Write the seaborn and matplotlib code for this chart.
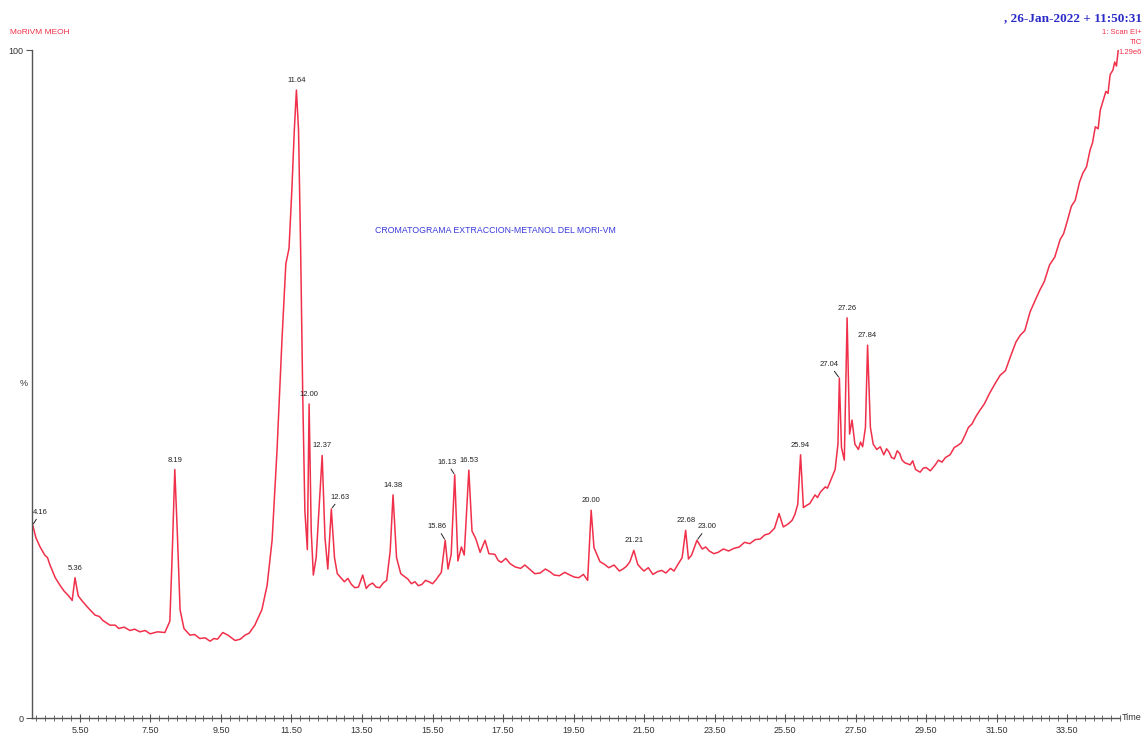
import numpy as np
import pandas as pd
import matplotlib
matplotlib.use("Agg")
import matplotlib.pyplot as plt
from matplotlib.ticker import MultipleLocator, FixedLocator
import seaborn as sns

# Total ion chromatogram (retention time in minutes, relative intensity in %)
rt = [4.16, 4.25, 4.37, 4.50, 4.58, 4.65, 4.80, 4.93, 5.05, 5.16, 5.28, 5.36, 5.45, 5.55,
      5.73, 5.93, 6.05, 6.15, 6.35, 6.50, 6.60, 6.75, 6.92, 7.05, 7.20, 7.35, 7.49, 7.70,
      7.91, 8.05, 8.12, 8.19, 8.26, 8.34, 8.45, 8.62, 8.75, 8.90, 9.05, 9.19, 9.30, 9.40,
      9.55, 9.70, 9.90, 10.05, 10.18, 10.30, 10.46, 10.66, 10.81, 10.95,
      11.09, 11.23, 11.30, 11.34, 11.43, 11.51, 11.58, 11.64, 11.70, 11.76, 11.82, 11.88,
      11.95, 12.00, 12.06, 12.12, 12.20, 12.30, 12.37, 12.45, 12.53, 12.63, 12.72, 12.80,
      12.90, 13.00, 13.10, 13.20, 13.30, 13.40, 13.52, 13.62, 13.70, 13.80, 13.90, 14.00,
      14.10, 14.20, 14.30, 14.38, 14.48, 14.60, 14.70, 14.80, 14.90, 15.00, 15.10, 15.20,
      15.30, 15.40, 15.50, 15.60, 15.75, 15.86, 15.94, 16.03, 16.13, 16.22, 16.32,
      16.40, 16.53, 16.62, 16.73, 16.85, 16.99, 17.10, 17.27, 17.36, 17.45, 17.58, 17.70,
      17.85, 18.00, 18.12, 18.27, 18.40, 18.55, 18.70, 18.83, 18.95, 19.10, 19.25, 19.40,
      19.52, 19.65, 19.78, 19.90, 20.00, 20.08, 20.25, 20.38, 20.50, 20.65, 20.80, 20.90,
      21.00, 21.10, 21.21, 21.32, 21.42, 21.50, 21.62, 21.75, 21.88, 22.00, 22.12, 22.25,
      22.35, 22.45, 22.58, 22.68, 22.76, 22.85, 23.00, 23.15, 23.25, 23.35, 23.48, 23.60,
      23.75, 23.90, 24.05, 24.20, 24.35, 24.50, 24.65, 24.80, 24.92, 25.05, 25.20, 25.33,
      25.45, 25.60, 25.70, 25.78, 25.86, 25.94, 26.02, 26.10, 26.20, 26.35, 26.42, 26.50,
      26.64, 26.70, 26.78, 26.92, 27.00, 27.04, 27.10, 27.18, 27.26, 27.33, 27.40, 27.48,
      27.58, 27.64, 27.70, 27.78, 27.84, 27.92, 28.00, 28.10, 28.20, 28.30, 28.38, 28.45,
      28.52, 28.60, 28.68, 28.75, 28.82, 28.90, 29.05, 29.12, 29.20, 29.33, 29.42, 29.50,
      29.62, 29.76, 29.85, 29.95, 30.05, 30.18, 30.30, 30.40, 30.50, 30.61, 30.70, 30.80,
      30.92, 31.03, 31.15, 31.30, 31.45, 31.60, 31.75, 31.90, 32.05, 32.17, 32.30, 32.45,
      32.60, 32.73, 32.85, 33.00, 33.15, 33.30, 33.40, 33.50, 33.62, 33.73, 33.85, 33.95,
      34.05, 34.15, 34.22, 34.30, 34.38, 34.44, 34.52, 34.60, 34.66, 34.72, 34.80, 34.85,
      34.90, 34.95]
tic = [28.9, 27.0, 25.6, 24.4, 24.0, 22.9, 21.0, 19.9, 19.0, 18.4, 17.6, 21.0, 18.3, 17.6,
       16.5, 15.4, 15.2, 14.6, 13.9, 13.9, 13.4, 13.6, 13.1, 13.3, 12.9, 13.1, 12.6, 12.9,
       12.8, 14.5, 25.0, 37.2, 28.0, 16.2, 13.4, 12.4, 12.5, 11.9, 12.0, 11.5, 11.9, 11.8,
       12.8, 12.4, 11.6, 11.8, 12.4, 12.7, 13.9, 16.2, 19.9, 26.6,
       40.1, 56.6, 64.0, 68.0, 70.3, 79.0, 88.0, 94.0, 88.0, 70.0, 48.0, 31.0,
       25.2, 47.0, 28.0, 21.4, 24.0, 33.0, 39.3, 27.0, 22.3, 31.3, 24.0, 21.6,
       21.0, 20.4, 20.9, 20.0, 19.5, 19.6, 21.4, 19.4, 19.9, 20.2, 19.6, 19.5,
       20.2, 20.6, 25.0, 33.4, 24.0, 21.6, 21.2, 20.8, 20.1, 20.4, 19.8, 20.0,
       20.6, 20.4, 20.1, 20.7, 21.8, 26.6, 22.3, 24.5, 36.4, 23.5, 25.6,
       24.4, 37.1, 28.0, 26.8, 24.8, 26.6, 24.6, 24.5, 23.6, 23.3, 23.9, 23.1,
       22.6, 22.4, 22.9, 22.2, 21.6, 21.7, 22.3, 21.9, 21.4, 21.3, 21.8, 21.4,
       21.1, 21.0, 21.5, 20.6, 31.1, 25.5, 23.4, 23.0, 22.5, 22.9, 22.0, 22.3,
       22.7, 23.4, 25.1, 23.0, 22.4, 22.0, 22.5, 21.5, 21.9, 22.1, 21.7, 22.4,
       22.0, 22.9, 24.0, 28.1, 23.8, 24.4, 26.6, 25.3, 25.6, 25.0, 24.6, 24.8,
       25.3, 25.0, 25.4, 25.6, 26.3, 26.1, 26.7, 26.8, 27.4, 27.6, 28.4, 30.6,
       28.6, 29.1, 29.6, 30.5, 32.0, 39.4, 31.5, 31.8, 32.1, 33.4, 33.0, 33.8,
       34.6, 34.4, 35.4, 37.2, 41.0, 50.9, 40.5, 38.6, 59.9, 42.5, 44.6, 41.0,
       40.2, 41.3, 40.6, 43.5, 55.8, 43.5, 41.0, 40.2, 40.6, 39.4, 40.3, 39.8,
       39.0, 38.8, 40.0, 39.6, 38.6, 38.2, 37.9, 38.5, 37.2, 36.8, 37.4, 37.5,
       37.0, 37.9, 38.6, 38.3, 39.0, 39.4, 40.5, 40.8, 41.2, 42.4, 43.5, 44.0,
       45.2, 46.1, 47.0, 48.6, 50.0, 51.3, 52.0, 54.2, 56.3, 57.3, 58.0, 60.8,
       62.6, 64.1, 65.3, 67.8, 69.0, 71.6, 72.5, 74.3, 76.6, 77.5, 80.2, 81.6,
       82.5, 85.0, 86.1, 88.5, 88.2, 91.0, 92.4, 93.8, 93.5, 96.3, 97.0, 98.2,
       97.6, 100.0]

# Labelled peaks
peak_rt = [4.16, 5.36, 8.19, 11.64, 12.00, 12.37, 12.63, 14.38, 15.86, 16.13, 16.53,
           20.00, 21.21, 22.68, 23.00, 25.94, 27.04, 27.26, 27.84]
peak_text = ["4.16", "5.36", "8.19", "11.64", "12.00", "12.37", "12.63", "14.38", "15.86",
             "16.13", "16.53", "20.00", "21.21", "22.68", "23.00", "25.94", "27.04",
             "27.26", "27.84"]

x_ticks = [5.50, 7.50, 9.50, 11.50, 13.50, 15.50, 17.50, 19.50, 21.50, 23.50, 25.50,
           27.50, 29.50, 31.50, 33.50]

df = pd.DataFrame({"rt": rt, "tic": tic})

sns.set_style("white")
plt.rcParams["font.family"] = ["Liberation Sans", "DejaVu Sans"]

W, H = 1146, 735
fig = plt.figure(figsize=(W / 100, H / 100), dpi=100)
ax = fig.add_axes([32 / W, (H - 718) / H, (1120 - 32) / W, (718 - 50) / H])

trace_color = "#f0304a"
sns.lineplot(data=df, x="rt", y="tic", ax=ax, color=trace_color, linewidth=1.1,
             estimator=None, sort=False)

ax.set_xlim(4.14, 35.0)
ax.set_ylim(0, 100)
ax.set_xlabel("")
ax.set_ylabel("")

for side in ("top", "right"):
    ax.spines[side].set_visible(False)
for side in ("left", "bottom"):
    ax.spines[side].set_color("#555555")
    ax.spines[side].set_linewidth(1.0)

ax.xaxis.set_major_locator(FixedLocator(x_ticks))
ax.xaxis.set_minor_locator(MultipleLocator(0.25))
ax.set_xticklabels([f"{v:.2f}" for v in x_ticks])
ax.tick_params(axis="x", which="major", bottom=True, direction="inout", length=6,
               width=0.8, color="#555555", labelsize=6.5, pad=3, labelcolor="#333333")
ax.tick_params(axis="x", which="minor", bottom=True, direction="inout", length=4,
               width=0.6, color="#555555")
ax.set_yticks([0, 100])
ax.set_yticklabels(["0", "100"])
ax.tick_params(axis="y", left=True, direction="out", length=4, width=0.8,
               color="#555555", labelsize=6.5, pad=2, labelcolor="#333333")
ax.text(-0.004, 0.5, "%", transform=ax.transAxes, ha="right", va="center",
        fontsize=6.5, color="#333333")
ax.text(1.002, 0.0, "Time", transform=ax.transAxes, ha="left", va="center",
        fontsize=6.5, color="#333333")

# Peak annotations: label offsets (pixels) and whether a leader line is drawn
offsets = {
    "4.16": (8, 9, True), "12.63": (9, 8, True), "15.86": (-8, 10, True),
    "16.13": (-8, 9, True), "23.00": (10, 10, True), "27.04": (-10, 10, True),
}
lookup = dict(zip(rt, tic))
for t, txt in zip(peak_rt, peak_text):
    val = lookup[t]
    dx, dy, lead = offsets.get(txt, (0, 6, False))
    ax.annotate(txt, xy=(t, val), xytext=(dx, dy), textcoords="offset pixels",
                ha="center", va="bottom", fontsize=5.5, color="#222222",
                arrowprops=dict(arrowstyle="-", color="#222222", lw=0.7,
                                shrinkA=0, shrinkB=1) if lead else None)

ax.text(0.315, 0.73, "CROMATOGRAMA EXTRACCION-METANOL DEL MORI-VM",
        transform=ax.transAxes, ha="left", va="center", fontsize=6.3,
        color="#3a3adc")

fig.text(10 / W, 1 - 32 / H, "MoRiVM MEOH", ha="left", va="center",
         fontsize=6, color="#f03048")
fig.text(1142 / W, 1 - 18 / H, ", 26-Jan-2022 + 11:50:31", ha="right", va="center",
         fontsize=9.5, color="#2a2ac8", fontweight="bold", family="Liberation Serif")
fig.text(1142 / W, 1 - 32 / H, "1: Scan EI+", ha="right", va="center",
         fontsize=5.5, color="#f03048")
fig.text(1142 / W, 1 - 42 / H, "TIC", ha="right", va="center",
         fontsize=5.5, color="#f03048")
fig.text(1142 / W, 1 - 53 / H, "1.29e6", ha="right", va="center",
         fontsize=5.5, color="#f03048")

fig.savefig("out.png", dpi=100, facecolor="white")
